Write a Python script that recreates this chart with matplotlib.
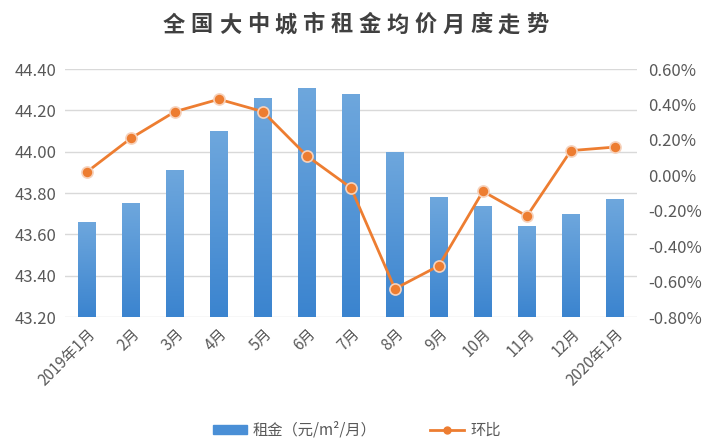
import numpy as np
import matplotlib
matplotlib.use("Agg")
import matplotlib.pyplot as plt
from matplotlib.colors import LinearSegmentedColormap
from matplotlib.patches import Patch
from matplotlib.lines import Line2D

plt.rcParams['font.family'] = ['Noto Sans CJK SC', 'DejaVu Sans']

months = ["2019年1月", "2月", "3月", "4月", "5月", "6月", "7月",
          "8月", "9月", "10月", "11月", "12月", "2020年1月"]
rent = [43.66, 43.75, 43.91, 44.10, 44.26, 44.31, 44.28,
        44.00, 43.78, 43.74, 43.64, 43.70, 43.77]
mom = [0.02, 0.21, 0.36, 0.43, 0.36, 0.11, -0.07,
       -0.64, -0.51, -0.09, -0.23, 0.14, 0.16]

left_ticks = [43.20, 43.40, 43.60, 43.80, 44.00, 44.20, 44.40]
right_ticks = [-0.80, -0.60, -0.40, -0.20, 0.00, 0.20, 0.40, 0.60]

title = "全国大中城市租金均价月度走势"

gray = "#595959"
orange = "#ED7D31"

fig = plt.figure(figsize=(7.14, 4.46), dpi=100)
ax = fig.add_axes([0.091, 0.289, 0.801, 0.556])
ax2 = ax.twinx()

x = np.arange(len(months))
bars = ax.bar(x, rent, width=0.39, color="none", zorder=2)

cmap = LinearSegmentedColormap.from_list("blu", ["#3B84CF", "#6EA7DD"])
grad = np.linspace(0, 1, 200).reshape(-1, 1)
for b in bars:
    x0 = b.get_x()
    w = b.get_width()
    im = ax.imshow(grad, extent=[x0, x0 + w, left_ticks[0], b.get_height()],
                   origin="lower", cmap=cmap, aspect="auto", zorder=2)
    im.set_clip_path(b)

ax.set_xlim(-0.5, len(months) - 0.5)
ax.set_ylim(left_ticks[0], left_ticks[-1])
ax.set_yticks(left_ticks)
ax.set_yticklabels([f"{v:.2f}" for v in left_ticks])
ax.grid(axis="y", color="#D9D9D9", linewidth=1, zorder=0)
ax.set_axisbelow(True)

ax2.plot(x, mom, color=orange, linewidth=2, marker="o", markersize=8,
         markerfacecolor=orange, markeredgecolor="#F6D2BC", markeredgewidth=1.2,
         zorder=3)
ax2.set_ylim(right_ticks[0], right_ticks[-1])
ax2.set_yticks(right_ticks)
ax2.set_yticklabels([f"{v:.2f}%" for v in right_ticks])

ax.set_xticks(x)
ax.set_xticklabels(months, rotation=45, ha="right", rotation_mode="anchor")

for a in (ax, ax2):
    for s in a.spines.values():
        s.set_visible(False)
    a.tick_params(length=0, colors=gray, labelsize=12)
ax.tick_params(axis="y", pad=6)
ax2.tick_params(axis="y", pad=8)
ax.tick_params(axis="x", pad=6, labelsize=11)

# title with wide letter spacing
cx0, cx1 = 174 / 714, 537 / 714
for i, ch in enumerate(title):
    fig.text(cx0 + i * (cx1 - cx0) / (len(title) - 1), 0.944, ch,
             ha="center", va="center", fontsize=16, fontweight="bold",
             color="#404040")

handles = [Patch(color="#4A8FD6"),
           Line2D([0], [0], color=orange, linewidth=2, marker="o", markersize=5,
                  markerfacecolor=orange, markeredgecolor=orange)]
fig.legend(handles, ["租金（元/m²/月）", "环比"], loc="center",
           bbox_to_anchor=(0.5, 0.035), ncol=2, frameon=False, fontsize=11,
           labelcolor=gray, handlelength=2.2, handleheight=0.6,
           columnspacing=3.5, handletextpad=0.4)

fig.savefig("out.png", dpi=100)
